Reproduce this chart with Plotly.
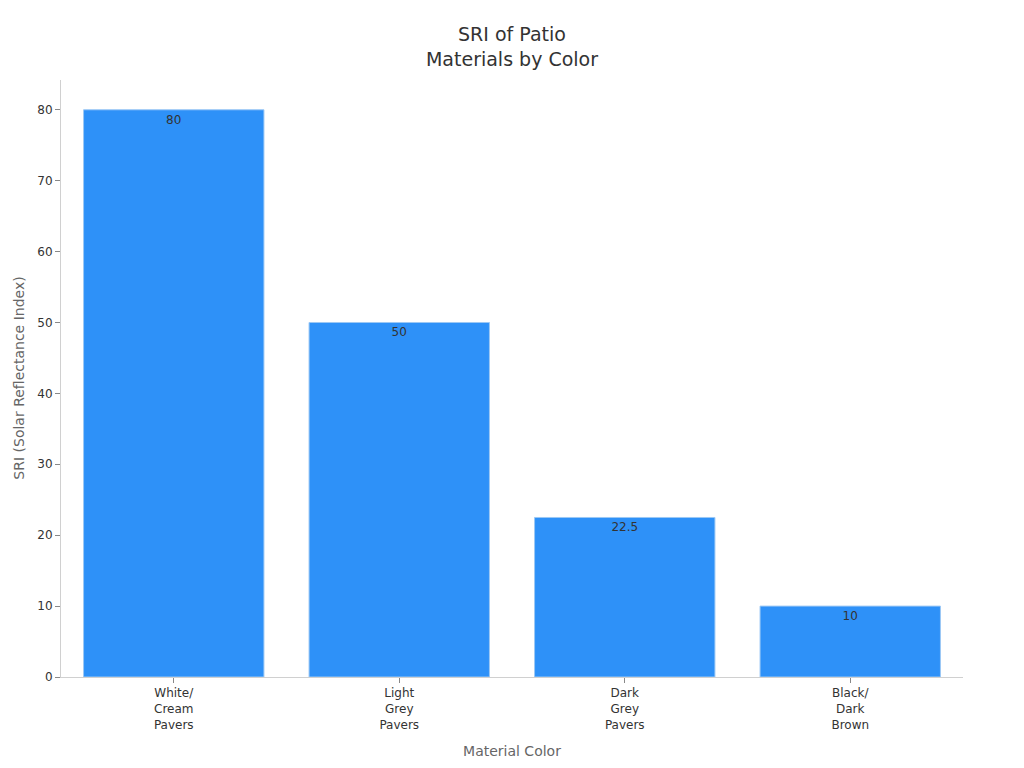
import plotly.graph_objects as go

categories = ["White/<br>Cream<br>Pavers", "Light<br>Grey<br>Pavers",
              "Dark<br>Grey<br>Pavers", "Black/<br>Dark<br>Brown"]
sri_values = [80, 50, 22.5, 10]
bar_labels = ["80", "50", "22.5", "10"]

fig = go.Figure(go.Bar(
    x=categories,
    y=sri_values,
    text=bar_labels,
    textposition="inside",
    insidetextanchor="end",
    textfont=dict(color="#333333", size=12),
    marker=dict(color="#2e91f8", line=dict(color="#9cc8f5", width=1)),
))

fig.update_layout(
    width=1024,
    height=768,
    font=dict(family="DejaVu Sans", color="#333333"),
    title=dict(text="SRI of Patio<br>Materials by Color", xref="paper", x=0.5, xanchor="center",
               y=0.957, yanchor="top", font=dict(size=19, color="#333333")),
    plot_bgcolor="white",
    paper_bgcolor="white",
    margin=dict(l=53, r=69, t=72, b=99),
    bargap=0.2,
    showlegend=False,
    xaxis=dict(
        title=dict(text="Material Color", font=dict(size=14, color="#666666")),
        showline=True, linecolor="#d0d0d0", linewidth=1,
        ticks="outside", tickcolor="#888888", ticklen=5,
        tickfont=dict(size=12, color="#333333"),
    ),
    yaxis=dict(
        automargin=False,
        range=[0, 84.2],
        dtick=10,
        showgrid=False,
        zeroline=False,
        showline=True, linecolor="#d0d0d0", linewidth=1,
        ticks="outside", tickcolor="#888888", ticklen=5,
        tickfont=dict(size=12, color="#333333"),
    ),
)

# y axis title placed by hand so it sits closer to the page edge
fig.add_annotation(
    text="SRI (Solar Reflectance Index)",
    xref="paper", yref="paper", x=-0.0475, y=0.5,
    xanchor="center", yanchor="middle", textangle=-90, showarrow=False,
    font=dict(size=14, color="#666666"),
)

fig.write_html("out.html")
